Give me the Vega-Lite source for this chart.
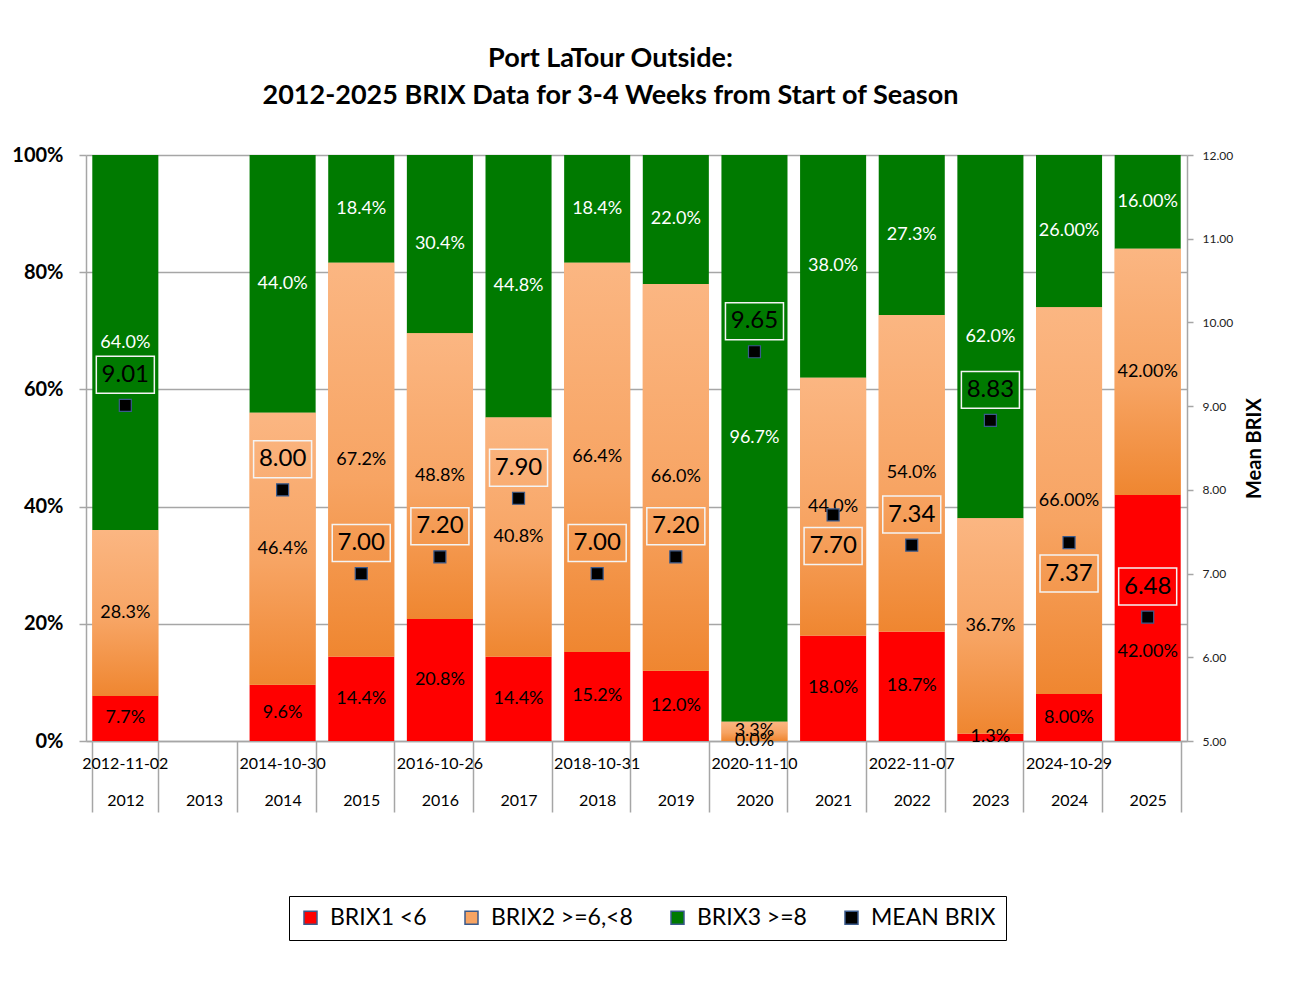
{
  "$schema": "https://vega.github.io/schema/vega-lite/v6.json",
  "width": 1101,
  "height": 586,
  "autosize": {"type": "none"},
  "padding": {"left": 86, "top": 155, "right": 110, "bottom": 266},
  "background": "white",
  "title": {
    "text": ["Port LaTour Outside:", "2012-2025 BRIX Data for 3-4 Weeks from Start of Season"],
    "font": "Lato",
    "fontSize": 27,
    "fontWeight": "bold",
    "lineHeight": 37,
    "anchor": "middle",
    "dx": -26,
    "offset": 35,
    "color": "black"
  },
  "config": {"view": {"stroke": null}, "font": "Lato"},
  "datasets": {
    "bars": [
      {"year": "2012", "series": "BRIX1 <6", "pct": 0.077, "label": "7.7%"},
      {"year": "2012", "series": "BRIX2 >=6,<8", "pct": 0.283, "label": "28.3%"},
      {"year": "2012", "series": "BRIX3 >=8", "pct": 0.64, "label": "64.0%"},
      {"year": "2014", "series": "BRIX1 <6", "pct": 0.096, "label": "9.6%"},
      {"year": "2014", "series": "BRIX2 >=6,<8", "pct": 0.464, "label": "46.4%"},
      {"year": "2014", "series": "BRIX3 >=8", "pct": 0.44, "label": "44.0%"},
      {"year": "2015", "series": "BRIX1 <6", "pct": 0.144, "label": "14.4%"},
      {"year": "2015", "series": "BRIX2 >=6,<8", "pct": 0.672, "label": "67.2%"},
      {"year": "2015", "series": "BRIX3 >=8", "pct": 0.184, "label": "18.4%"},
      {"year": "2016", "series": "BRIX1 <6", "pct": 0.208, "label": "20.8%"},
      {"year": "2016", "series": "BRIX2 >=6,<8", "pct": 0.488, "label": "48.8%"},
      {"year": "2016", "series": "BRIX3 >=8", "pct": 0.304, "label": "30.4%"},
      {"year": "2017", "series": "BRIX1 <6", "pct": 0.144, "label": "14.4%"},
      {"year": "2017", "series": "BRIX2 >=6,<8", "pct": 0.408, "label": "40.8%"},
      {"year": "2017", "series": "BRIX3 >=8", "pct": 0.448, "label": "44.8%"},
      {"year": "2018", "series": "BRIX1 <6", "pct": 0.152, "label": "15.2%"},
      {"year": "2018", "series": "BRIX2 >=6,<8", "pct": 0.664, "label": "66.4%"},
      {"year": "2018", "series": "BRIX3 >=8", "pct": 0.184, "label": "18.4%"},
      {"year": "2019", "series": "BRIX1 <6", "pct": 0.12, "label": "12.0%"},
      {"year": "2019", "series": "BRIX2 >=6,<8", "pct": 0.66, "label": "66.0%"},
      {"year": "2019", "series": "BRIX3 >=8", "pct": 0.22, "label": "22.0%"},
      {"year": "2020", "series": "BRIX1 <6", "pct": 0.0, "label": "0.0%"},
      {"year": "2020", "series": "BRIX2 >=6,<8", "pct": 0.033, "label": "3.3%"},
      {"year": "2020", "series": "BRIX3 >=8", "pct": 0.967, "label": "96.7%"},
      {"year": "2021", "series": "BRIX1 <6", "pct": 0.18, "label": "18.0%"},
      {"year": "2021", "series": "BRIX2 >=6,<8", "pct": 0.44, "label": "44.0%"},
      {"year": "2021", "series": "BRIX3 >=8", "pct": 0.38, "label": "38.0%"},
      {"year": "2022", "series": "BRIX1 <6", "pct": 0.187, "label": "18.7%"},
      {"year": "2022", "series": "BRIX2 >=6,<8", "pct": 0.54, "label": "54.0%"},
      {"year": "2022", "series": "BRIX3 >=8", "pct": 0.273, "label": "27.3%"},
      {"year": "2023", "series": "BRIX1 <6", "pct": 0.013, "label": "1.3%"},
      {"year": "2023", "series": "BRIX2 >=6,<8", "pct": 0.367, "label": "36.7%"},
      {"year": "2023", "series": "BRIX3 >=8", "pct": 0.62, "label": "62.0%"},
      {"year": "2024", "series": "BRIX1 <6", "pct": 0.08, "label": "8.00%"},
      {"year": "2024", "series": "BRIX2 >=6,<8", "pct": 0.66, "label": "66.00%"},
      {"year": "2024", "series": "BRIX3 >=8", "pct": 0.26, "label": "26.00%"},
      {"year": "2025", "series": "BRIX1 <6", "pct": 0.42, "label": "42.00%"},
      {"year": "2025", "series": "BRIX2 >=6,<8", "pct": 0.42, "label": "42.00%"},
      {"year": "2025", "series": "BRIX3 >=8", "pct": 0.16, "label": "16.00%"}
    ],
    "means": [
      {"year": "2012", "mean": 9.01, "date": "2012-11-02"},
      {"year": "2014", "mean": 8.0, "date": "2014-10-30"},
      {"year": "2015", "mean": 7.0},
      {"year": "2016", "mean": 7.2, "date": "2016-10-26"},
      {"year": "2017", "mean": 7.9},
      {"year": "2018", "mean": 7.0, "date": "2018-10-31"},
      {"year": "2019", "mean": 7.2},
      {"year": "2020", "mean": 9.65, "date": "2020-11-10"},
      {"year": "2021", "mean": 7.7},
      {"year": "2022", "mean": 7.34, "date": "2022-11-07"},
      {"year": "2023", "mean": 8.83},
      {"year": "2024", "mean": 7.37, "date": "2024-10-29"},
      {"year": "2025", "mean": 6.48}
    ]
  },
  "layer": [
    {
      "data": {"name": "bars"},
      "transform": [
        {"stack": "pct", "groupby": ["year"], "sort": [{"field": "series", "order": "ascending"}], "as": ["y0", "y1"]}
      ],
      "encoding": {
        "x": {
          "field": "year",
          "type": "nominal",
          "scale": {
            "domain": ["2012", "2013", "2014", "2015", "2016", "2017", "2018", "2019", "2020", "2021", "2022", "2023", "2024", "2025"],
            "paddingInner": 0.16,
            "paddingOuter": 0.08
          },
          "axis": {
            "title": null,
            "labelAngle": 0,
            "labelFont": "Lato",
            "labelFontSize": 16,
            "labelColor": "black",
            "labelBaseline": "top",
            "labelPadding": -20,
            "tickBand": "extent",
            "tickSize": 71,
            "tickColor": "#A6A6A6",
            "tickWidth": 1.5,
            "domainColor": "#A6A6A6",
            "domainWidth": 1.5,
            "grid": false
          }
        },
        "y": {
          "field": "y0",
          "type": "quantitative",
          "scale": {"domain": [0, 1], "nice": false},
          "axis": {
            "orient": "left",
            "title": null,
            "values": [0, 0.2, 0.4, 0.6, 0.8, 1],
            "format": ".0%",
            "labelFont": "Lato",
            "labelFontSize": 20,
            "labelFontWeight": "bold",
            "labelColor": "black",
            "labelPadding": 16,
            "tickSize": 7,
            "tickColor": "#A6A6A6",
            "tickWidth": 1.5,
            "domainColor": "#A6A6A6",
            "domainWidth": 1.5,
            "grid": true,
            "gridColor": "#A6A6A6",
            "gridWidth": 1.5
          }
        }
      },
      "layer": [
        {
          "mark": {"type": "bar"},
          "encoding": {
            "y2": {"field": "y1"},
            "color": {
              "field": "series",
              "type": "nominal",
              "scale": {
                "domain": ["BRIX1 <6", "BRIX2 >=6,<8", "BRIX3 >=8", "MEAN BRIX"],
                "range": ["#FF0000", "#F7A463", "#007A00", "#000000"]
              },
              "legend": {
                "title": null,
                "orient": "none",
                "legendX": 203,
                "legendY": 741,
                "direction": "horizontal",
                "symbolType": "square",
                "symbolSize": 169,
                "labelFont": "Lato",
                "labelFontSize": 23,
                "labelColor": "black",
                "labelOffset": 8,
                "columnPadding": 33,
                "padding": 10,
                "strokeColor": "black"
              }
            }
          }
        },
        {
          "transform": [{"filter": "datum.series === 'BRIX2 >=6,<8'"}],
          "mark": {
            "type": "bar",
            "color": {
              "gradient": "linear",
              "x1": 0, "y1": 0, "x2": 0, "y2": 1,
              "stops": [
                {"offset": 0, "color": "#FBB682"},
                {"offset": 0.55, "color": "#F7A463"},
                {"offset": 1, "color": "#EF8630"}
              ]
            }
          },
          "encoding": {"y2": {"field": "y1"}}
        },
        {
          "transform": [
            {"fold": ["y0", "y1"], "as": ["edge", "v"]},
            {"aggregate": [{"op": "mean", "field": "v", "as": "mid"}], "groupby": ["year", "series", "label"]}
          ],
          "layer": [
            {
              "transform": [{"filter": "!(datum.year === '2025' && datum.series === 'BRIX1 <6')"}],
              "mark": {"type": "text", "font": "Lato", "fontSize": 18, "baseline": "middle"},
              "encoding": {
                "y": {"field": "mid", "type": "quantitative"},
                "text": {"field": "label"},
                "color": {"condition": {"test": "datum.series === 'BRIX3 >=8'", "value": "white"}, "value": "black"}
              }
            },
            {
              "transform": [{"filter": "datum.year === '2025' && datum.series === 'BRIX1 <6'"}],
              "mark": {"type": "text", "font": "Lato", "fontSize": 18, "baseline": "middle", "dy": 34, "color": "black"},
              "encoding": {
                "y": {"field": "mid", "type": "quantitative"},
                "text": {"field": "label"}
              }
            }
          ]
        }
      ]
    },
    {
      "data": {"name": "means"},
      "encoding": {
        "x": {"field": "year", "type": "nominal"},
        "y": {
          "field": "mean",
          "type": "quantitative",
          "scale": {"domain": [5, 12], "nice": false},
          "axis": {
            "orient": "right",
            "values": [5, 6, 7, 8, 9, 10, 11, 12],
            "format": ".2f",
            "labelFont": "Lato",
            "labelFontSize": 12,
            "labelColor": "#222222",
            "labelPadding": 9,
            "tickSize": 6,
            "tickColor": "#A6A6A6",
            "tickWidth": 1.5,
            "domainColor": "#A6A6A6",
            "domainWidth": 1.5,
            "grid": false,
            "title": "Mean BRIX",
            "titleFont": "Lato",
            "titleFontSize": 20,
            "titleFontWeight": "bold",
            "titleColor": "black",
            "titleAngle": 270,
            "titlePadding": 32
          }
        }
      },
      "layer": [
        {
          "transform": [{"filter": "isValid(datum.date)"}],
          "mark": {"type": "text", "font": "Lato", "fontSize": 16, "dy": 23, "baseline": "middle", "color": "black"},
          "encoding": {"y": {"datum": 5, "type": "quantitative"}, "text": {"field": "date"}}
        },
        {
          "transform": [{"filter": "datum.year !== '2021' && datum.year !== '2024'"}],
          "mark": {"type": "point", "shape": "M-0.967,-1.633H0.967V-0.4H-0.967Z", "size": 3600, "filled": false, "stroke": "#F4F4F4", "strokeWidth": 1.5, "opacity": 1}
        },
        {
          "transform": [{"filter": "datum.year === '2021' || datum.year === '2024'"}],
          "mark": {"type": "point", "shape": "M-0.967,0.417H0.967V1.65H-0.967Z", "size": 3600, "filled": false, "stroke": "#F4F4F4", "strokeWidth": 1.5, "opacity": 1}
        },
        {
          "transform": [{"filter": "datum.year !== '2021' && datum.year !== '2024'"}],
          "mark": {"type": "text", "font": "Lato", "fontSize": 24, "dy": -30.5, "baseline": "middle", "color": "black"},
          "encoding": {"text": {"field": "mean", "type": "quantitative", "format": ".2f"}}
        },
        {
          "transform": [{"filter": "datum.year === '2021' || datum.year === '2024'"}],
          "mark": {"type": "text", "font": "Lato", "fontSize": 24, "dy": 31, "baseline": "middle", "color": "black"},
          "encoding": {"text": {"field": "mean", "type": "quantitative", "format": ".2f"}}
        },
        {
          "mark": {"type": "square", "size": 144, "stroke": "#3A5A8C", "strokeWidth": 1.2, "opacity": 1},
          "encoding": {"color": {"datum": "MEAN BRIX", "type": "nominal"}}
        }
      ]
    }
  ],
  "resolve": {"scale": {"y": "independent"}, "axis": {"y": "independent"}}
}
